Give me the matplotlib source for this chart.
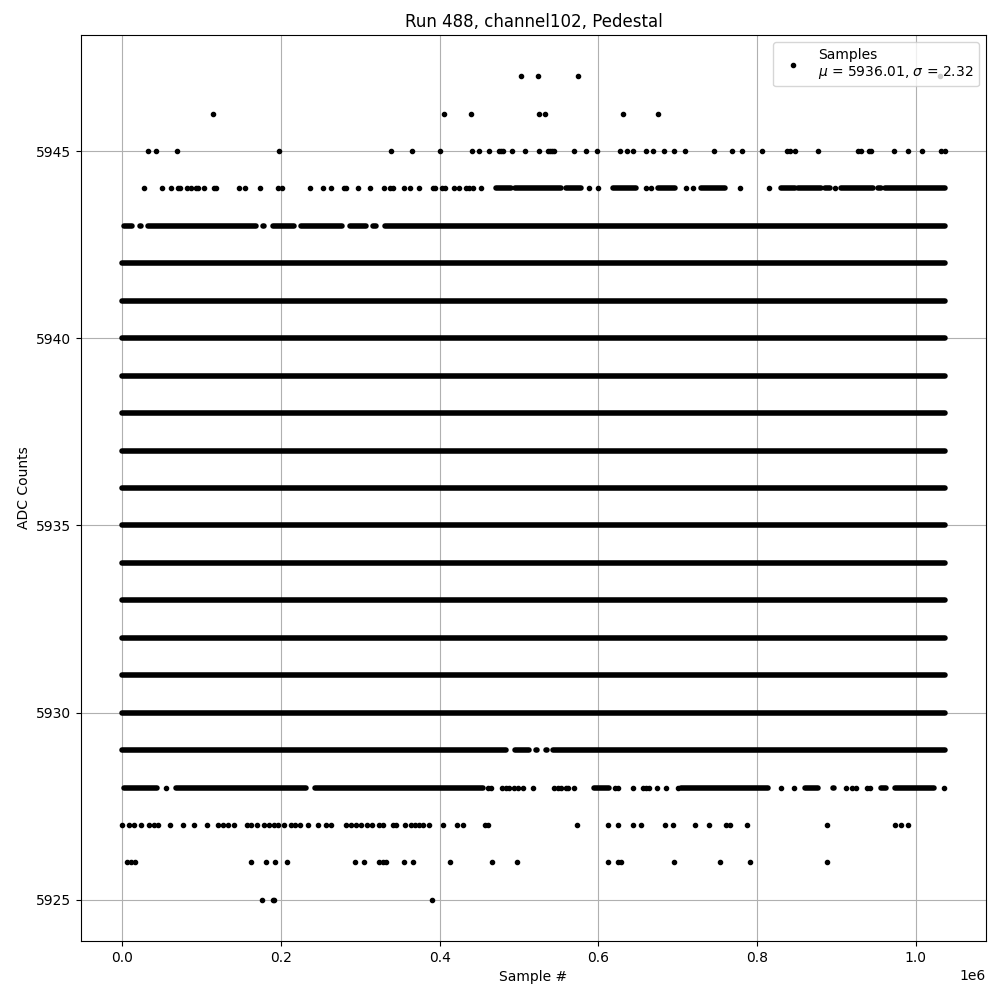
import matplotlib
matplotlib.use("Agg")
import matplotlib.pyplot as plt

# Pedestal scan of one ADC channel: every sample is one integer ADC reading.
run_number = 488
channel = 102
mean_adc = 5936.01
std_adc = 2.32
last_sample = 1_036_500

# Levels that are hit on practically every stretch of the run
full_levels = [5930, 5931, 5932, 5933, 5934, 5935, 5936, 5937, 5938, 5939, 5940, 5941, 5942]

# Sample ranges (start, end) on partially filled levels where readings are packed
spans_5944 = [(471100, 490000), (495000, 553200), (559400, 578300), (618200, 647700),
              (675000, 695900), (729600, 758900), (830400, 847200), (851500, 880900),
              (885000, 891300), (906100, 946000), (952300, 956500), (960700, 1036300)]
spans_5943 = [(2500, 12600), (21900, 23200), (32400, 168200), (177400, 178600),
              (190000, 216500), (225700, 277400), (286700, 306900), (316000, 319500),
              (330800, 1036300)]
spans_5929 = [(0, 483400), (494700, 512800), (521900, 523200), (534500, 535800),
              (543000, 1036300)]
spans_5928 = [(2500, 44200), (67300, 231200), (243300, 454000), (594300, 613600),
              (704400, 813200), (860300, 876200), (895100, 897300), (955600, 962400),
              (973700, 1023300)]

# Isolated readings, sample number per level
pts_5947 = [503000, 524500, 574900, 1030000]
pts_5946 = [114700, 406000, 440000, 525700, 533300, 630400, 675700]
pts_5945 = [32800, 42900, 69300, 197900, 339100, 365600, 400900, 441200, 450100,
            462700, 475300, 477400, 480300, 491700, 508100, 525300, 536300, 539600,
            541700, 544600, 569800, 585000, 598500, 626600, 636300, 643000, 660600,
            668200, 682900, 694700, 708500, 745600, 768300, 780400, 806100, 837100,
            840900, 847200, 876700, 927100, 931300, 940500, 943000, 972500, 989700,
            1007300, 1031300, 1036300]
pts_5944 = [27700, 50400, 61000, 69800, 73100, 81600, 86600, 92900, 95800, 102600,
            116000, 118500, 147500, 155100, 174000, 196700, 201700, 237000, 252700,
            263100, 279900, 282000, 297500, 312700, 330300, 337900, 340900, 355500,
            363100, 374400, 391300, 394600, 402700, 406800, 417800, 424900, 433300,
            436700, 441800, 452200, 588800, 599300, 660200, 666500, 710700, 719100,
            777900, 814900, 897600]
pts_5928 = [55000, 460700, 464800, 478300, 483700, 487900, 494200, 498500, 504800,
            518200, 543900, 548900, 553100, 559400, 562300, 569800, 620300, 625300,
            643500, 656100, 660200, 663200, 674100, 685500, 700200, 830400, 846400,
            911500, 920000, 924500, 939000, 942500, 1035500]
pts_5927 = [0, 8500, 15000, 23600, 34000, 40000, 44600, 60100, 76900, 90000, 106800,
            120300, 126500, 132900, 141200, 157200, 162000, 169800, 179000, 185000,
            191000, 195900, 204200, 212700, 218000, 224000, 233700, 246300, 256800,
            263100, 282000, 288000, 295000, 301000, 308000, 315000, 323000, 328300,
            340900, 345100, 356400, 364000, 369000, 374000, 379000, 387000, 404700,
            422000, 429100, 457300, 460700, 573600, 612700, 625300, 643500, 653900,
            683300, 693900, 721100, 738800, 761100, 765300, 786700, 888400, 973300,
            981700, 989700]
pts_5926 = [5900, 11000, 16000, 162300, 181200, 192900, 208000, 293400, 305100,
            324000, 328300, 333000, 355500, 366100, 413500, 466500, 498000, 612700,
            625300, 628700, 694700, 752700, 790500, 887500]
pts_5925 = [176500, 189600, 191500, 390000]

span_levels = [(5944, spans_5944), (5943, spans_5943), (5929, spans_5929), (5928, spans_5928)]
point_levels = [(5947, pts_5947), (5946, pts_5946), (5945, pts_5945), (5944, pts_5944),
                (5928, pts_5928), (5927, pts_5927), (5926, pts_5926), (5925, pts_5925)]

fig, ax = plt.subplots(figsize=(10, 10), dpi=100)

band_style = dict(color="black", lw=4.0, solid_capstyle="round")

# Fully populated levels: one continuous band of overlapping dots
for level in full_levels:
    ax.plot([0, last_sample], [level, level], **band_style)

# Packed stretches on the sparser levels
for level, spans in span_levels:
    for start, end in spans:
        ax.plot([start, end], [level, level], **band_style)

# Individual readings
xs, ys = [], []
for level, pts in point_levels:
    xs.extend(pts)
    ys.extend([level] * len(pts))
ax.plot(xs, ys, "k.", linestyle="none",
        label="Samples\n$\\mu$ = %.2f, $\\sigma$ = %.2f" % (mean_adc, std_adc))

ax.set_title("Run %d, channel%d, Pedestal" % (run_number, channel))
ax.set_xlabel("Sample #")
ax.set_ylabel("ADC Counts")
ax.grid(True)
ax.legend(loc="upper right")

fig.subplots_adjust(left=0.081, right=0.986, top=0.965, bottom=0.059)
fig.savefig("out.png", dpi=100)
